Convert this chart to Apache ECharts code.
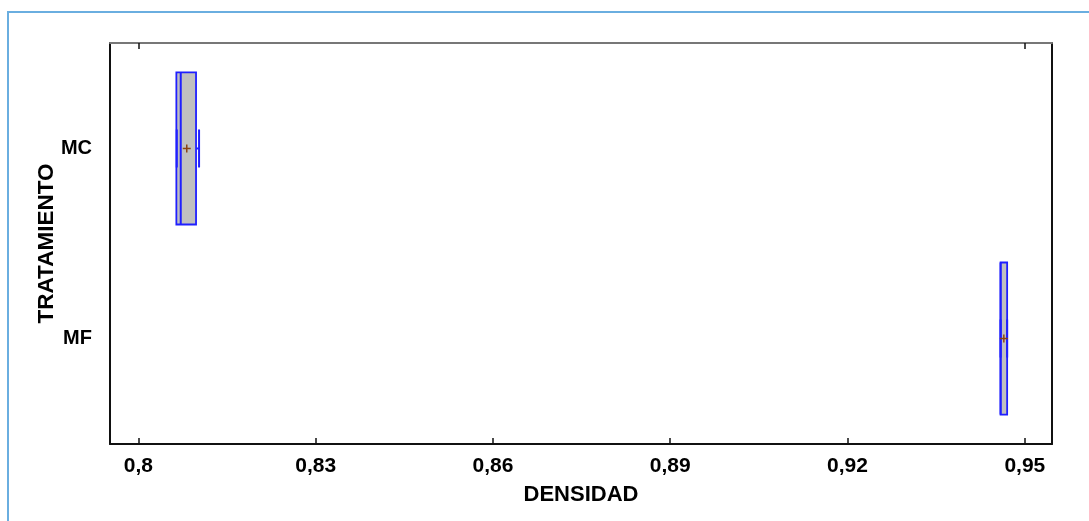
<!DOCTYPE html>
<html>
<head>
<meta charset="utf-8">
<script src="https://cdn.jsdelivr.net/npm/echarts@6/dist/echarts.min.js"></script>
<style>html,body{margin:0;padding:0;background:#fff}#c{width:1089px;height:521px}</style>
</head>
<body>
<div id="c"></div>
<script>
// Data
const categories = ['MC', 'MF'];
const minValues    = [0.8065, 0.9459];
const q1Values     = [0.80643, 0.9459];
const medianValues = [0.80717, 0.9459];
const q3Values     = [0.80976, 0.94701];
const maxValues    = [0.81027, 0.94701];
const meanValues   = [0.80819, 0.94645];
const xTicks = [0.8, 0.83, 0.86, 0.89, 0.92, 0.95];
const topTicks = [0.8, 0.95];
const yPositions = [1, 2];

const boxData = categories.map((c, i) => [yPositions[i], minValues[i], q1Values[i], medianValues[i], q3Values[i], maxValues[i], meanValues[i]]);

const FONT = '"Liberation Sans", Arial, sans-serif';
const BLUE = '#1f1fff';

const chart = echarts.init(document.getElementById('c'), null, {renderer: 'canvas'});
chart.setOption({
  backgroundColor: '#fff',
  animation: false,
  graphic: [{
    type: 'rect', shape: {x: 8, y: 12, width: 1200, height: 600},
    style: {fill: 'none', stroke: '#6aaee0', lineWidth: 2}, silent: true, z: -1
  }],
  grid: {left: 110, top: 43, right: 37, bottom: 77, show: false},
  xAxis: [{
    type: 'value', position: 'bottom', min: 0.7952, max: 0.9546,
    name: 'DENSIDAD', nameLocation: 'middle', nameGap: 40, nameMoveOverlap: false,
    nameTextStyle: {fontFamily: FONT, fontWeight: 'bold', fontSize: 22, color: '#000'},
    axisLine: {show: true, lineStyle: {color: '#111', width: 2}},
    axisTick: {show: true, inside: true, length: 6, customValues: xTicks, lineStyle: {color: '#111', width: 1.5}},
    axisLabel: {customValues: xTicks, margin: 12, fontFamily: FONT, fontWeight: 'bold', fontSize: 21, color: '#000',
      formatter: v => String(Math.round(v * 100) / 100).replace('.', ',')},
    splitLine: {show: false}
  }, {
    type: 'value', position: 'top', min: 0.7952, max: 0.9546,
    axisLine: {show: true, lineStyle: {color: '#777', width: 2}},
    axisTick: {show: true, inside: true, length: 6, customValues: topTicks, lineStyle: {color: '#111', width: 1.5}},
    axisLabel: {show: false}, splitLine: {show: false}
  }],
  yAxis: [{
    type: 'value', position: 'left', inverse: true, min: 0.445, max: 2.555,
    name: 'TRATAMIENTO', nameLocation: 'middle', nameGap: 52, nameRotate: 90, nameMoveOverlap: false,
    nameTextStyle: {fontFamily: FONT, fontWeight: 'bold', fontSize: 22.5, color: '#000'},
    axisLine: {show: true, lineStyle: {color: '#111', width: 2}},
    axisTick: {show: false},
    axisLabel: {customValues: yPositions, margin: 18, fontFamily: FONT, fontWeight: 'bold', fontSize: 20, color: '#000',
      formatter: v => categories[Math.round(v) - 1] || ''},
    splitLine: {show: false}
  }, {
    type: 'value', position: 'right', inverse: true, min: 0.445, max: 2.555,
    axisLine: {show: true, lineStyle: {color: '#111', width: 2}},
    axisTick: {show: false}, axisLabel: {show: false}, splitLine: {show: false}
  }],
  series: [{
    type: 'custom',
    xAxisIndex: 0, yAxisIndex: 0,
    data: boxData,
    renderItem: function (params, api) {
      const y = api.value(0);
      const half = 0.4, capHalf = 0.1;
      const pMin = api.coord([api.value(1), y]);
      const pQ1Top = api.coord([api.value(2), y - half]);
      const pQ3Bot = api.coord([api.value(4), y + half]);
      const pMedTop = api.coord([api.value(3), y - half]);
      const pMedBot = api.coord([api.value(3), y + half]);
      const pMax = api.coord([api.value(5), y]);
      const pMean = api.coord([api.value(6), y]);
      const capTop = api.coord([api.value(1), y - capHalf])[1];
      const capBot = api.coord([api.value(1), y + capHalf])[1];
      const q1x = pQ1Top[0], q3x = pQ3Bot[0];
      const lineStyle = {stroke: BLUE, lineWidth: 2, fill: null};
      const plusH = 4;
      return {
        type: 'group',
        children: [
          {type: 'rect', shape: {x: q1x, y: pQ1Top[1], width: q3x - q1x, height: pQ3Bot[1] - pQ1Top[1]},
            style: {fill: '#c0c0c0', stroke: BLUE, lineWidth: 1.8}},
          {type: 'line', shape: {x1: pMedTop[0], y1: pMedTop[1], x2: pMedBot[0], y2: pMedBot[1]}, style: lineStyle},
          {type: 'line', shape: {x1: pMin[0], y1: pMin[1], x2: q1x, y2: pMin[1]}, style: lineStyle},
          {type: 'line', shape: {x1: q3x, y1: pMax[1], x2: pMax[0], y2: pMax[1]}, style: lineStyle},
          {type: 'line', shape: {x1: pMin[0], y1: capTop, x2: pMin[0], y2: capBot}, style: lineStyle},
          {type: 'line', shape: {x1: pMax[0], y1: capTop, x2: pMax[0], y2: capBot}, style: lineStyle},
          {type: 'line', shape: {x1: pMean[0] - plusH, y1: pMean[1], x2: pMean[0] + plusH, y2: pMean[1]}, style: {stroke: '#8b4513', lineWidth: 1.5}},
          {type: 'line', shape: {x1: pMean[0], y1: pMean[1] - plusH, x2: pMean[0], y2: pMean[1] + plusH}, style: {stroke: '#8b4513', lineWidth: 1.5}}
        ]
      };
    }
  }]
});
</script>
</body>
</html>
